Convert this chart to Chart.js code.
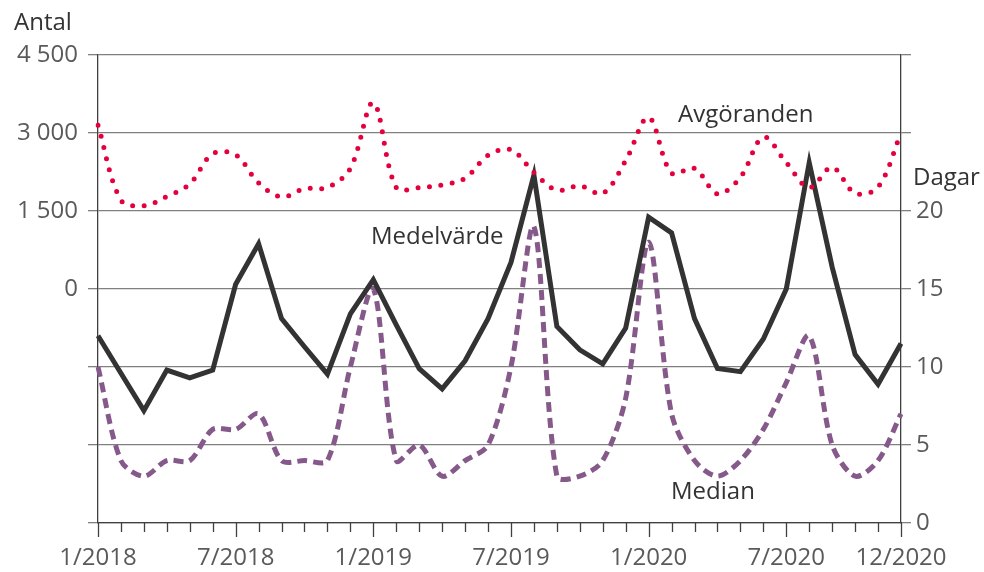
<!DOCTYPE html>
<html>
<head>
<meta charset="utf-8">
<script src="https://cdn.jsdelivr.net/npm/chart.js@4.4.1/dist/chart.umd.min.js"></script>
<style>
  html, body { margin: 0; padding: 0; background: #ffffff; }
  #wrap { width: 984px; height: 572px; }
</style>
</head>
<body>
<div id="wrap"><canvas id="c" width="984" height="572"></canvas></div>
<script>
// ---- Data ----
const months = [
  '1/2018','2/2018','3/2018','4/2018','5/2018','6/2018','7/2018','8/2018','9/2018','10/2018','11/2018','12/2018',
  '1/2019','2/2019','3/2019','4/2019','5/2019','6/2019','7/2019','8/2019','9/2019','10/2019','11/2019','12/2019',
  '1/2020','2/2020','3/2020','4/2020','5/2020','6/2020','7/2020','8/2020','9/2020','10/2020','11/2020','12/2020'
];
const shownMonthLabels = ['1/2018','7/2018','1/2019','7/2019','1/2020','7/2020','12/2020'];

// Antal (left axis)
const avgoranden = [
  3150, 1710, 1600, 1780, 2020, 2600, 2580, 2040, 1770, 1930, 1950, 2320,
  3580, 1950, 1950, 2000, 2130, 2570, 2680, 2240, 1900, 1985, 1840, 2470,
  3300, 2230, 2320, 1830, 2150, 2920, 2430, 1950, 2340, 1840, 1960, 3000
];
// Dagar (right axis)
const medelvarde = [
  12.0, 9.6, 7.2, 9.8, 9.3, 9.8, 15.3, 17.9, 13.1, 11.3, 9.55, 13.4,
  15.6, 12.7, 9.9, 8.6, 10.4, 13.1, 16.7, 22.3, 12.6, 11.1, 10.2, 12.5,
  19.6, 18.6, 13.1, 9.9, 9.7, 11.8, 15.0, 23.1, 16.4, 10.8, 8.9, 11.5
];
const median = [
  10, 4, 3, 4, 4, 6, 6, 7, 4, 4, 4, 10,
  15, 4, 5, 3, 4, 5, 10, 19, 3, 3, 4, 8,
  18, 7, 4, 3, 4, 6, 9, 12, 5, 3, 4, 7
];

const leftTickValues = [0, 1500, 3000, 4500];
const leftTickLabels = ['0', '1 500', '3 000', '4 500'];
const rightTickValues = [0, 5, 10, 15, 20];
const rightTickLabels = ['0', '5', '10', '15', '20'];

// ---- Styling ----
const FONT = '"Open Sans", "DejaVu Sans", sans-serif';
const TICK_COLOR = '#5a5a5a';
const TEXT_COLOR = '#333333';
const GRID_COLOR = '#808080';
const AXIS_COLOR = '#404040';

const textPlugin = {
  id: 'texts',
  afterDraw(chart) {
    const ctx = chart.ctx;
    ctx.save();
    ctx.fillStyle = TEXT_COLOR;
    ctx.font = '24px ' + FONT;
    ctx.textAlign = 'left';
    ctx.textBaseline = 'alphabetic';
    ctx.fillText('Antal', 14, 30);
    ctx.fillText('Dagar', 913, 185);
    ctx.fillText('Avgöranden', 678, 122);
    ctx.fillText('Medelvärde', 371, 244);
    ctx.fillText('Median', 671, 499);
    ctx.restore();
  }
};

const xTicksPlugin = {
  id: 'xticks',
  afterDatasetsDraw(chart) {
    const x = chart.scales.x;
    const ctx = chart.ctx;
    const y0 = chart.chartArea.bottom;
    ctx.save();
    ctx.strokeStyle = AXIS_COLOR;
    ctx.lineWidth = 1.3;
    months.forEach((m, i) => {
      const px = Math.round(x.getPixelForValue(i)) + 0.5;
      const len = shownMonthLabels.includes(m) ? 14 : 9;
      ctx.beginPath();
      ctx.moveTo(px, y0);
      ctx.lineTo(px, y0 + len);
      ctx.stroke();
    });
    ctx.restore();
  }
};

new Chart(document.getElementById('c'), {
  type: 'line',
  data: {
    labels: months,
    datasets: [
      {
        label: 'Avgöranden',
        data: avgoranden,
        yAxisID: 'yL',
        borderColor: '#e4003c',
        borderWidth: 5,
        borderDash: [0, 11.5],
        borderCapStyle: 'round',
        tension: 0.35,
        pointRadius: 0,
        fill: false,
        order: 1
      },
      {
        label: 'Medelvärde',
        data: medelvarde,
        yAxisID: 'yR',
        borderColor: '#333333',
        borderWidth: 5,
        borderJoinStyle: 'miter',
        tension: 0,
        pointRadius: 0,
        fill: false,
        order: 2
      },
      {
        label: 'Median',
        data: median,
        yAxisID: 'yR',
        borderColor: '#855a8b',
        borderWidth: 5,
        borderDash: [10, 6],
        borderCapStyle: 'butt',
        tension: 0.3,
        pointRadius: 0,
        fill: false,
        order: 3
      }
    ]
  },
  options: {
    responsive: false,
    animation: false,
    devicePixelRatio: 1,
    layout: { padding: { top: 55, left: 0, right: 0, bottom: 0 } },
    plugins: { legend: { display: false }, tooltip: { enabled: false } },
    scales: {
      x: {
        type: 'category',
        offset: false,
        afterFit(scale) { scale.height = 49; },
        grid: { display: false, drawTicks: false },
        border: { display: true, color: AXIS_COLOR, width: 1.3 },
        ticks: {
          autoSkip: false,
          maxRotation: 0,
          minRotation: 0,
          padding: 21,
          color: TICK_COLOR,
          font: { family: FONT, size: 24 },
          callback(value, index) {
            const l = months[index];
            return shownMonthLabels.includes(l) ? l : '';
          }
        }
      },
      yL: {
        position: 'left',
        min: -4500,
        max: 4500,
        afterFit(scale) { scale.width = 98; },
        grid: { color: GRID_COLOR, lineWidth: 1.3, drawTicks: true, tickLength: 10, tickColor: GRID_COLOR },
        border: { display: true, color: AXIS_COLOR, width: 1.3 },
        ticks: {
          stepSize: 1500,
          padding: 10,
          color: TICK_COLOR,
          font: { family: FONT, size: 24 },
          callback(value) {
            const k = leftTickValues.indexOf(value);
            return k >= 0 ? leftTickLabels[k] : '';
          }
        }
      },
      yR: {
        position: 'right',
        min: 0,
        max: 30,
        afterFit(scale) { scale.width = 83; },
        grid: { drawOnChartArea: false, drawTicks: true, tickLength: 10, color: GRID_COLOR, tickColor: GRID_COLOR, lineWidth: 1.3 },
        border: { display: true, color: AXIS_COLOR, width: 1.3 },
        ticks: {
          stepSize: 5,
          padding: 5,
          color: TICK_COLOR,
          font: { family: FONT, size: 24 },
          callback(value) {
            const k = rightTickValues.indexOf(value);
            return k >= 0 ? rightTickLabels[k] : '';
          }
        }
      }
    }
  },
  plugins: [xTicksPlugin, textPlugin]
});
</script>
</body>
</html>
